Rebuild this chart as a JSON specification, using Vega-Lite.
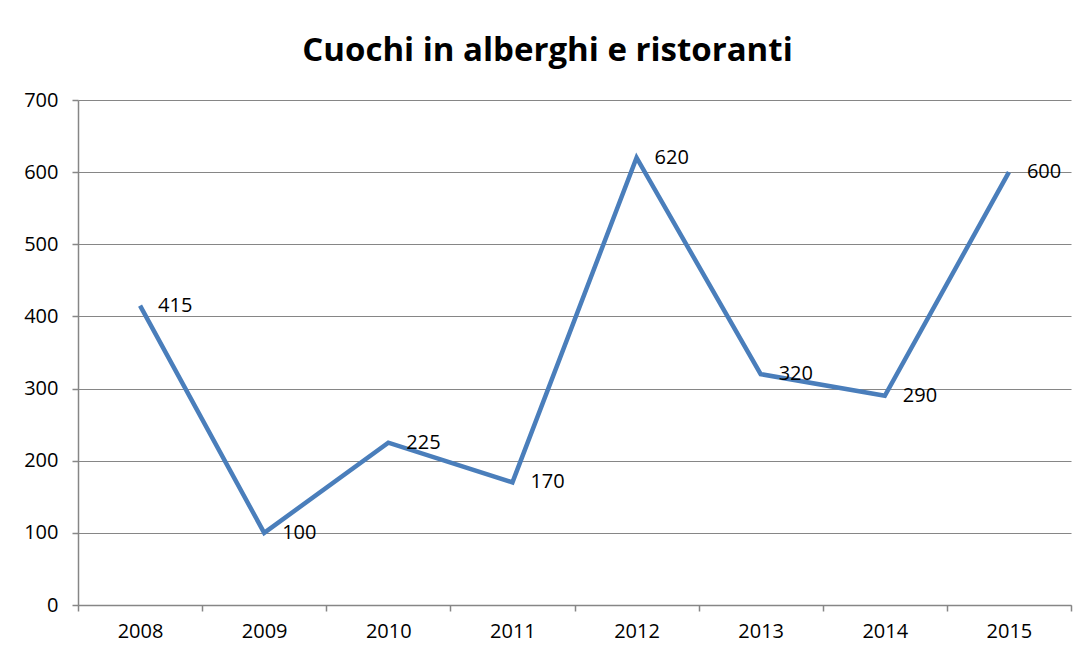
{
  "$schema": "https://vega.github.io/schema/vega-lite/v6.json",
  "autosize": "none",
  "width": 993,
  "height": 505,
  "padding": {"left": 78, "top": 100, "right": 15, "bottom": 52},
  "background": "white",
  "title": {
    "text": "Cuochi in alberghi e ristoranti",
    "font": "Open Sans",
    "fontSize": 33,
    "fontWeight": "bold",
    "color": "#000000",
    "anchor": "middle",
    "dx": -27,
    "offset": 22
  },
  "data": {
    "values": [
      {"anno": "2008", "valore": 415},
      {"anno": "2009", "valore": 100},
      {"anno": "2010", "valore": 225},
      {"anno": "2011", "valore": 170},
      {"anno": "2012", "valore": 620},
      {"anno": "2013", "valore": 320},
      {"anno": "2014", "valore": 290},
      {"anno": "2015", "valore": 600}
    ]
  },
  "encoding": {
    "x": {
      "field": "anno",
      "type": "ordinal",
      "scale": {"paddingInner": 0, "paddingOuter": 0},
      "axis": {
        "title": null,
        "labelAngle": 0,
        "labelFont": "Open Sans",
        "labelFontSize": 20,
        "labelColor": "#000000",
        "labelPadding": 10,
        "tickBand": "extent",
        "tickSize": 6,
        "tickColor": "#868686",
        "domainColor": "#868686",
        "domainWidth": 1.5,
        "tickWidth": 1.5,
        "grid": false
      }
    },
    "y": {
      "field": "valore",
      "type": "quantitative",
      "scale": {"domain": [0, 700], "nice": false},
      "axis": {
        "title": null,
        "values": [0, 100, 200, 300, 400, 500, 600, 700],
        "labelFont": "Open Sans",
        "labelFontSize": 20,
        "labelColor": "#000000",
        "labelPadding": 14,
        "tickSize": 6,
        "tickColor": "#868686",
        "domainColor": "#868686",
        "domainWidth": 1.5,
        "tickWidth": 1.5,
        "gridColor": "#868686",
        "gridWidth": 1.2
      }
    }
  },
  "layer": [
    {
      "mark": {"type": "line", "color": "#4a7ebb", "strokeWidth": 4.5, "strokeJoin": "miter"}
    },
    {
      "mark": {"type": "text", "align": "left", "baseline": "middle", "dx": 18, "font": "Open Sans", "fontSize": 20, "color": "#000000"},
      "encoding": {"text": {"field": "valore", "type": "quantitative"}}
    }
  ],
  "config": {"view": {"stroke": null}}
}
